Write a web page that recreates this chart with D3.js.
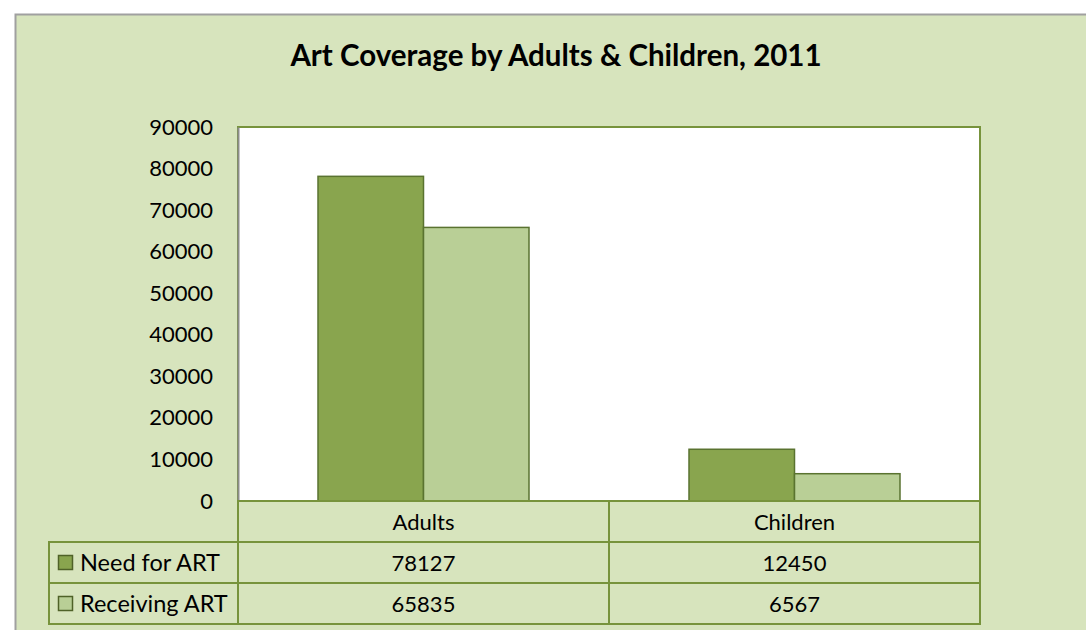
<!DOCTYPE html>
<html>
<head>
<meta charset="utf-8">
<script src="https://cdn.jsdelivr.net/npm/d3@7"></script>
<style>
  body { margin: 0; background: #fff; }
  svg { display: block; font-family: Lato, "Open Sans", sans-serif; }
</style>
</head>
<body>
<div id="chart-area"></div>
<script>
// data
var categories = ['Adults', 'Children'];
var seriesNames = ['Need for ART', 'Receiving ART'];
var needForArt = [78127, 12450];
var receivingArt = [65835, 6567];
var yTicks = [0, 10000, 20000, 30000, 40000, 50000, 60000, 70000, 80000, 90000];

var seriesValues = [needForArt, receivingArt];
var colors = ['#89a54e', '#b9cf96'];

var W = 1086, H = 630;
var plot = { left: 238, right: 980, top: 127, bottom: 501 };
var rowH = 41;

var svg = d3.select('#chart-area')
  .append('svg')
    .attr('width', W)
    .attr('height', H);

// chart background + border
svg.append('rect')
  .attr('x', 15.5).attr('y', 14.5)
  .attr('width', W).attr('height', H)
  .attr('fill', '#d7e4bd')
  .attr('stroke', '#a0a0a0')
  .attr('stroke-width', 2);

svg.append('text')
  .attr('x', 556)
  .attr('y', 66)
  .attr('text-anchor', 'middle')
  .attr('font-weight', 'bold')
  .attr('font-size', '29.5px')
  .text('Art Coverage by Adults & Children, 2011');

// scales
var xScale = d3.scaleBand()
  .domain(categories)
  .range([plot.left, plot.right])
  .padding(0);

var inner = d3.scaleBand()
  .domain(seriesNames)
  .range([80, xScale.bandwidth() - 80])
  .padding(0);

var yScale = d3.scaleLinear()
  .domain([0, 90000])
  .range([plot.bottom, plot.top]);

// plot area
svg.append('rect')
  .attr('x', plot.left).attr('y', plot.top)
  .attr('width', plot.right - plot.left)
  .attr('height', plot.bottom - plot.top)
  .attr('fill', '#fff')
  .attr('stroke', '#77933c')
  .attr('stroke-width', 2);

// y axis
var yAxis = d3.axisLeft(yScale)
  .tickValues(yTicks)
  .tickSize(0)
  .tickPadding(25)
  .tickFormat(d3.format('d'));

var yAxisGroup = svg.append('g')
  .attr('transform', 'translate(' + plot.left + ',0)')
  .call(yAxis);
yAxisGroup.select('.domain').attr('stroke', '#8c8c8c').attr('stroke-width', 2);
yAxisGroup.selectAll('text')
  .attr('font-size', '22px')
  .attr('fill', '#000')
  .attr('font-family', 'Lato, "Open Sans", sans-serif');

// bars
seriesNames.forEach(function(name, si) {
  svg.append('g')
    .selectAll('rect')
    .data(categories)
    .enter()
    .append('rect')
      .attr('x', function(c) { return xScale(c) + inner(name); })
      .attr('y', function(c, i) { return yScale(seriesValues[si][i]); })
      .attr('width', inner.bandwidth())
      .attr('height', function(c, i) { return plot.bottom - yScale(seriesValues[si][i]); })
      .attr('fill', colors[si])
      .attr('stroke', '#5a7330')
      .attr('stroke-width', 1.5);
});

// data table
var tableLeft = 49;
var lineColor = '#77933c';
var table = svg.append('g');

// category row
table.append('rect')
  .attr('x', plot.left).attr('y', plot.bottom)
  .attr('width', plot.right - plot.left).attr('height', rowH)
  .attr('fill', 'none').attr('stroke', lineColor).attr('stroke-width', 2);

// series rows
table.append('rect')
  .attr('x', tableLeft).attr('y', plot.bottom + rowH)
  .attr('width', plot.right - tableLeft).attr('height', rowH * 2)
  .attr('fill', 'none').attr('stroke', lineColor).attr('stroke-width', 2);

table.append('line')
  .attr('x1', tableLeft).attr('x2', plot.right)
  .attr('y1', plot.bottom + rowH * 2).attr('y2', plot.bottom + rowH * 2)
  .attr('stroke', lineColor).attr('stroke-width', 2);

// column lines
[plot.left].concat(categories.slice(1).map(function(c) { return xScale(c); }))
  .forEach(function(x) {
    table.append('line')
      .attr('x1', x).attr('x2', x)
      .attr('y1', plot.bottom).attr('y2', plot.bottom + rowH * 3)
      .attr('stroke', lineColor).attr('stroke-width', 2);
  });

// category labels
table.selectAll('.cat')
  .data(categories)
  .enter()
  .append('text')
    .attr('x', function(c) { return xScale(c) + xScale.bandwidth() / 2; })
    .attr('y', plot.bottom + rowH / 2 + 8)
    .attr('text-anchor', 'middle')
    .attr('font-size', '22px')
    .text(function(c) { return c; });

// series rows: legend key, name, values
seriesNames.forEach(function(name, si) {
  var rowY = plot.bottom + rowH * (si + 1);
  table.append('rect')
    .attr('x', 58.5).attr('y', rowY + 13.5)
    .attr('width', 14).attr('height', 14)
    .attr('fill', colors[si])
    .attr('stroke', '#4f6228')
    .attr('stroke-width', 1.5);
  table.append('text')
    .attr('x', 80)
    .attr('y', rowY + rowH / 2 + 8)
    .attr('font-size', '23.5px')
    .text(name);
  table.selectAll('.val' + si)
    .data(categories)
    .enter()
    .append('text')
      .attr('x', function(c) { return xScale(c) + xScale.bandwidth() / 2; })
      .attr('y', rowY + rowH / 2 + 8)
      .attr('text-anchor', 'middle')
      .attr('font-size', '22px')
      .text(function(c, i) { return seriesValues[si][i]; });
});
</script>
</body>
</html>
